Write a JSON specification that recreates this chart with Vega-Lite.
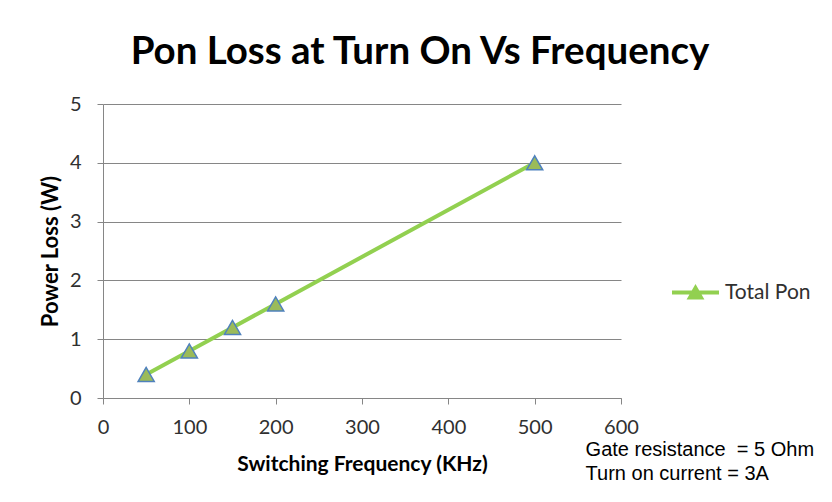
{
  "$schema": "https://vega.github.io/schema/vega-lite/v6.json",
  "width": 518,
  "height": 294,
  "autosize": {"type": "none"},
  "padding": {"left": 103, "top": 104, "right": 211, "bottom": 104},
  "background": "white",
  "config": {"view": {"stroke": null}},
  "title": {
    "text": "Pon Loss at Turn On Vs Frequency",
    "font": "Lato",
    "fontSize": 38.5,
    "fontWeight": "bold",
    "color": "black",
    "anchor": "middle",
    "dx": 58,
    "offset": 22
  },
  "layer": [
    {
      "data": {
        "values": [
          {"freq": 50, "loss": 0.4, "series": "Total Pon"},
          {"freq": 100, "loss": 0.8, "series": "Total Pon"},
          {"freq": 150, "loss": 1.2, "series": "Total Pon"},
          {"freq": 200, "loss": 1.6, "series": "Total Pon"},
          {"freq": 500, "loss": 4.0, "series": "Total Pon"}
        ]
      },
      "encoding": {
        "x": {
          "field": "freq",
          "type": "quantitative",
          "scale": {"domain": [0, 600], "nice": false},
          "axis": {
            "values": [0, 100, 200, 300, 400, 500, 600],
            "title": "Switching Frequency (KHz)",
            "grid": false,
            "tickSize": 6,
            "tickColor": "#868686",
            "domainColor": "#868686",
            "labelPadding": 13,
            "labelFont": "Lato",
            "labelFontSize": 20,
            "labelColor": "#303030",
            "labelFlush": false,
            "titleFont": "Lato",
            "titleFontSize": 21,
            "titleFontWeight": "bold",
            "titleColor": "black",
            "titlePadding": 16
          }
        },
        "y": {
          "field": "loss",
          "type": "quantitative",
          "scale": {"domain": [0, 5], "nice": false},
          "axis": {
            "values": [0, 1, 2, 3, 4, 5],
            "title": "Power Loss (W)",
            "grid": true,
            "gridColor": "#868686",
            "tickSize": 6,
            "tickColor": "#868686",
            "domainColor": "#868686",
            "labelPadding": 16,
            "labelFont": "Lato",
            "labelFontSize": 20,
            "labelColor": "#303030",
            "labelFlush": false,
            "titleFont": "Lato",
            "titleFontSize": 22,
            "titleFontWeight": "bold",
            "titleColor": "black",
            "titlePadding": 7
          }
        }
      },
      "layer": [
        {
          "mark": {"type": "line", "strokeWidth": 4},
          "encoding": {
            "color": {
              "field": "series",
              "type": "nominal",
              "scale": {"range": ["#92D050"]},
              "legend": {
                "orient": "none",
                "legendX": 569,
                "legendY": 165,
                "title": null,
                "padding": 0,
                "symbolType": "M-1,-0.085H1V0.085H-1Z M0,-0.36L0.38,0.3H-0.38Z",
                "symbolSize": 2209,
                "labelFont": "Lato",
                "labelFontSize": 21,
                "labelColor": "#303030",
                "labelOffset": 6,
                "encode": {
                  "symbols": {
                    "update": {
                      "fill": {"value": "#92D050"},
                      "stroke": {"value": "#92D050"},
                      "strokeWidth": {"value": 0}
                    }
                  }
                }
              }
            }
          }
        },
        {
          "mark": {
            "type": "point",
            "shape": "triangle-up",
            "filled": true,
            "fill": "#9BBB59",
            "stroke": "#4F81BD",
            "strokeWidth": 1.5,
            "size": 260,
            "opacity": 1
          }
        }
      ]
    },
    {
      "data": {"values": [{"note": "Gate resistance\u00a0 = 5 Ohm"}, {"note": "Turn on current = 3A"}]},
      "mark": {
        "type": "text",
        "align": "left",
        "baseline": "middle",
        "font": "Liberation Sans",
        "fontSize": 20,
        "fill": "black"
      },
      "encoding": {
        "x": {"datum": 559, "type": "quantitative"},
        "y": {"field": "note", "type": "nominal", "sort": null, "axis": null, "scale": {"range": [346, 370], "padding": 0}},
        "text": {"field": "note", "type": "nominal"}
      }
    }
  ],
  "resolve": {"scale": {"y": "independent"}}
}
